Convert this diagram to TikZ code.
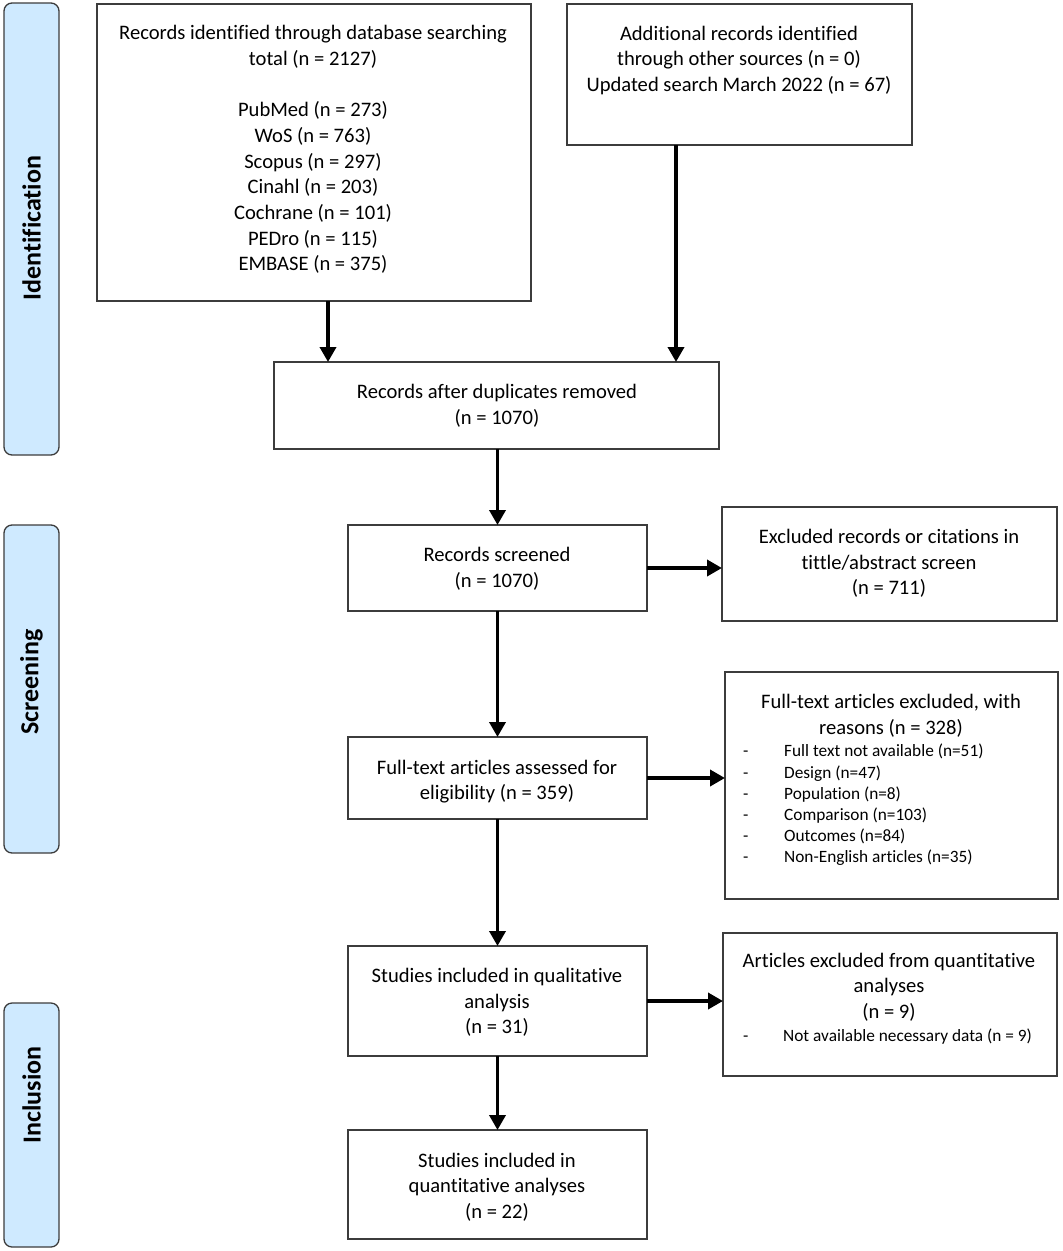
\documentclass[tikz,border=0pt]{standalone}
\usepackage{fontspec}
\setmainfont{Carlito}[Ligatures={NoCommon}]
\usetikzlibrary{arrows.meta}
\definecolor{sidefill}{RGB}{207,234,255}
\definecolor{edgegray}{RGB}{60,60,60}
\begin{document}
\begin{tikzpicture}[x=1pt,y=-1pt,
  box/.style={draw=edgegray,line width=1.3pt,inner sep=0pt,outer sep=0pt},
  side/.style={draw=edgegray,line width=1.3pt,fill=sidefill,rounded corners=8pt,inner sep=0pt,outer sep=0pt},
  sidelabel/.style={rotate=90,inner sep=0pt,font=\fontsize{26}{30}\selectfont\bfseries},
  txt/.style={align=center,inner sep=0pt,font=\fontsize{20.6}{25.7}\selectfont},
  small/.style={align=left,inner sep=0pt,anchor=west,font=\fontsize{17.3}{21.2}\selectfont},
  arr/.style={line width=3.6pt,-{Triangle[length=15pt,width=16pt]}}]
\useasboundingbox (0,0) rectangle (1063,1251);

% side bars
\node[side,minimum width=55pt,minimum height=452pt] (s1) at (31.5,229) {};
\node[side,minimum width=55pt,minimum height=328pt] (s2) at (31.5,689) {};
\node[side,minimum width=55pt,minimum height=244pt] (s3) at (31.5,1125) {};
\node[sidelabel] (l1) at (31.5,228) {Identification};
\node[sidelabel] (l2) at (31.5,682) {Screening};
\node[sidelabel] (l3) at (31.5,1095) {Inclusion};

% boxes
\node[box,minimum width=434pt,minimum height=297pt] (A) at (314,152.5) {};
\node[box,minimum width=345pt,minimum height=141pt] (B) at (739.5,74.5) {};
\node[box,minimum width=445pt,minimum height=87pt] (C) at (496.5,405.5) {};
\node[box,minimum width=299pt,minimum height=86pt] (D) at (497.5,568) {};
\node[box,minimum width=335pt,minimum height=114pt] (E) at (889.5,564) {};
\node[box,minimum width=299pt,minimum height=82pt] (F) at (497.5,778) {};
\node[box,minimum width=333pt,minimum height=227pt] (G) at (891.5,785.5) {};
\node[box,minimum width=299pt,minimum height=110pt] (H) at (497.5,1001) {};
\node[box,minimum width=334pt,minimum height=143pt] (I) at (890,1004.5) {};
\node[box,minimum width=299pt,minimum height=109pt] (J) at (497.5,1184.5) {};

% texts
\node[txt] (tA) at (313,149.5) {Records identified through database searching\\ total (n = 2127)\\[25.7pt]
PubMed (n = 273)\\ WoS (n = 763)\\ Scopus (n = 297)\\ Cinahl (n = 203)\\ Cochrane (n = 101)\\ PEDro (n = 115)\\ EMBASE (n = 375)};
\node[txt] (tB) at (739,60.5) {Additional records identified\\ through other sources (n = 0)\\ Updated search March 2022 (n = 67)};
\node[txt] (tC) at (497,406) {Records after duplicates removed\\ (n = 1070)};
\node[txt] (tD) at (497,568.5) {Records screened\\ (n = 1070)};
\node[txt] (tE) at (889,563.5) {Excluded records or citations in\\ tittle/abstract screen\\ (n = 711)};
\node[txt] (tF) at (497,781.5) {Full-text articles assessed for\\ eligibility (n = 359)};
\node[txt] (tG) at (891,715.5) {Full-text articles excluded, with\\ reasons (n = 328)};
\node[small] (lG) at (743,805) {\makebox[41pt][l]{-}Full text not available (n=51)\\
\makebox[41pt][l]{-}Design (n=47)\\
\makebox[41pt][l]{-}Population (n=8)\\
\makebox[41pt][l]{-}Comparison (n=103)\\
\makebox[41pt][l]{-}Outcomes (n=84)\\
\makebox[41pt][l]{-}Non-English articles (n=35)};
\node[txt] (tH) at (497,1002.5) {Studies included in qualitative\\ analysis\\ (n = 31)};
\node[txt] (tI) at (889,987) {Articles excluded from quantitative\\ analyses\\ (n = 9)};
\node[small] (lI) at (743,1037) {\makebox[40pt][l]{-}Not available necessary data (n = 9)};
\node[txt] (tJ) at (497,1187) {Studies included in\\ quantitative analyses\\ (n = 22)};

% arrows
\coordinate (ax) at (328,0);
\coordinate (bx) at (676,0);
\draw[arr] (A.south -| ax) -- (C.north -| ax);
\draw[arr] (B.south -| bx) -- (C.north -| bx);
\draw[arr] (C.south -| D.north) -- (D.north);
\draw[arr] (D.east) -- (D.east -| E.west);
\draw[arr] (D.south) -- (F.north);
\draw[arr] (F.east) -- (F.east -| G.west);
\draw[arr] (F.south) -- (H.north);
\draw[arr] (H.east) -- (H.east -| I.west);
\draw[arr] (H.south) -- (J.north);
\end{tikzpicture}
\end{document}
